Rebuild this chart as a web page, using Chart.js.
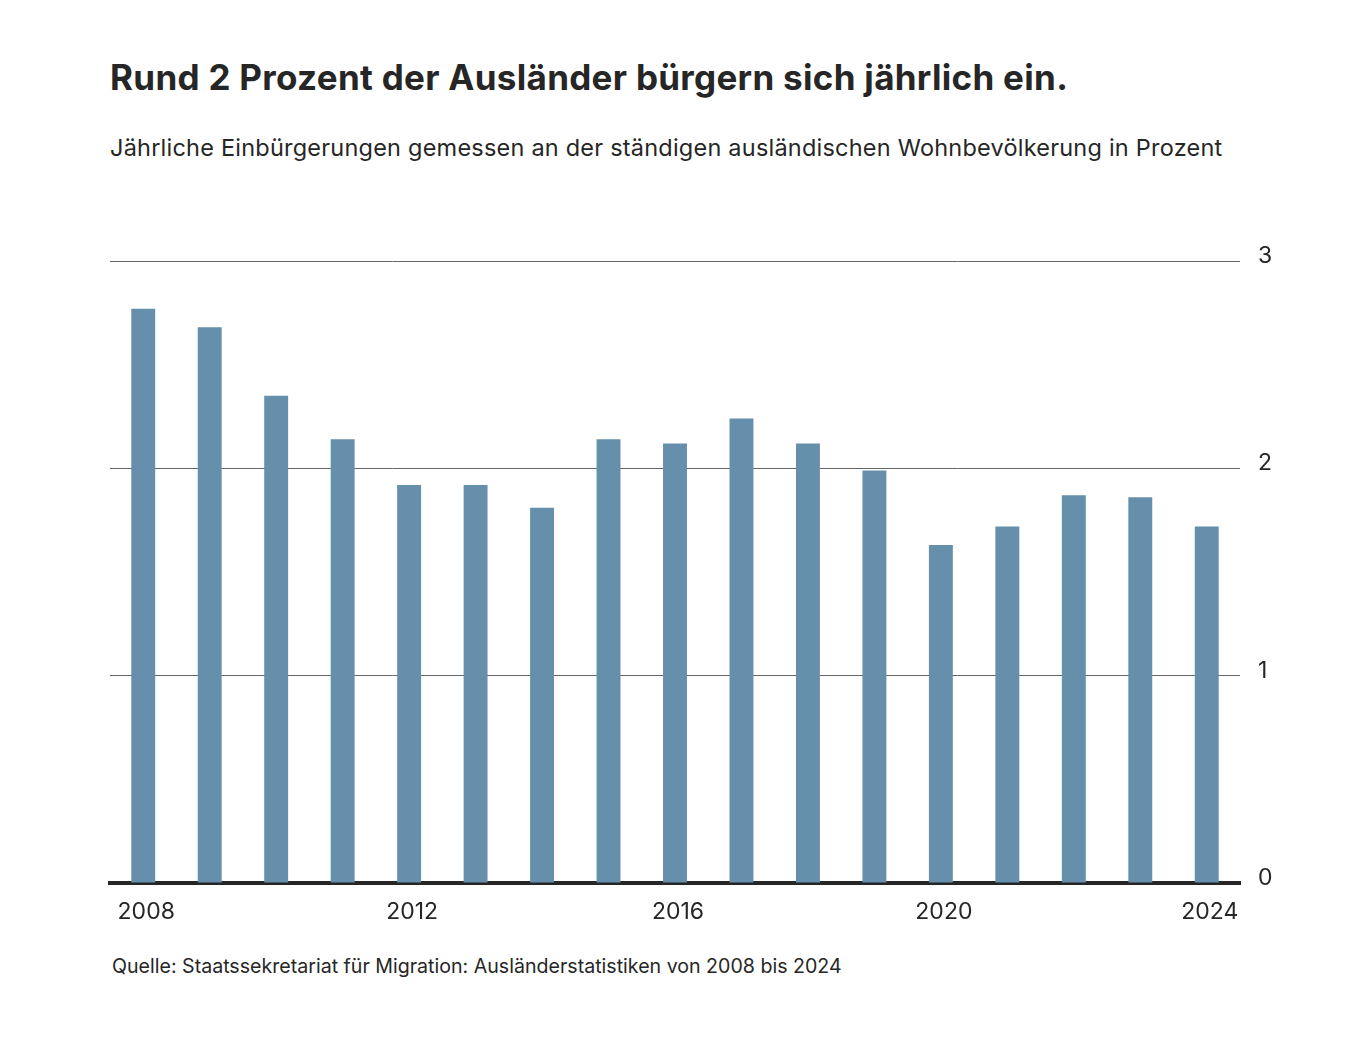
<!DOCTYPE html>
<html lang="de">
<head>
<meta charset="utf-8">
<title>Einbürgerungen</title>
<script src="https://cdn.jsdelivr.net/npm/chart.js@4.4.1/dist/chart.umd.min.js"></script>
<style>
    html, body { margin: 0; padding: 0; background: #fff; }
    body { width: 1371px; height: 1037px; position: relative; overflow: hidden; font-family: Inter, "Noto Sans", sans-serif; color: #262626; }
    .txt { position: absolute; left: 110px; line-height: 1; white-space: nowrap; }
    #title { top: 60px; font-size: 35px; font-weight: 700; letter-spacing: 0.3px; }
    #subtitle { top: 136px; font-size: 23.5px; font-weight: 400; letter-spacing: 0.22px; }
    #source { top: 957px; left: 112px; font-size: 19.6px; font-weight: 400; }
    #wrap { position: absolute; left: 0; top: 0; width: 1371px; height: 1037px; }
</style>
</head>
<body>
<div id="title" class="txt">Rund 2 Prozent der Ausländer bürgern sich jährlich ein.</div>
<div id="subtitle" class="txt">Jährliche Einbürgerungen gemessen an der ständigen ausländischen Wohnbevölkerung in Prozent</div>
<div id="source" class="txt">Quelle: Staatssekretariat für Migration: Ausländerstatistiken von 2008 bis 2024</div>
<div id="wrap"><canvas id="chart"></canvas></div>
<script>
const years = ["2008", "2009", "2010", "2011", "2012", "2013", "2014", "2015", "2016",
    "2017", "2018", "2019", "2020", "2021", "2022", "2023", "2024"]
const rates = [2.77, 2.68, 2.35, 2.14, 1.92, 1.92, 1.81, 2.14, 2.12,
    2.24, 2.12, 1.99, 1.63, 1.72, 1.87, 1.86, 1.72]
const shownYears = ["2008", "2012", "2016", "2020", "2024"]
const yTicks = [0, 1, 2, 3]

const ctx = document.getElementById("chart").getContext("2d")
const chart = new Chart(ctx, {
    type: "bar",
    data: {
        labels: years,
        datasets: [
            {
                data: rates,
                backgroundColor: "#668fab",
                borderWidth: 0,
                barPercentage: 0.36,
                categoryPercentage: 1,
            },
        ],
    },
    options: {
        responsive: true,
        maintainAspectRatio: false,
        animation: false,
        layout: {
            padding: { left: 110, top: 261, right: 0, bottom: 94 },
        },
        plugins: {
            legend: { display: false },
            tooltip: { enabled: false },
        },
        scales: {
            x: {
                z: 1,
                grid: { display: false },
                border: { display: true, color: "#262626", width: 4 },
                ticks: {
                    autoSkip: false,
                    maxRotation: 0,
                    padding: 7,
                    labelOffset: 3,
                    color: "#262626",
                    font: { family: "Inter", size: 23 },
                    callback: function (value) {
                        const lbl = this.getLabelForValue(value)
                        return shownYears.includes(lbl) ? lbl : ""
                    },
                },
                afterFit: (scale) => { scale.height = 60 },
            },
            y: {
                position: "right",
                min: 0,
                max: 3,
                afterBuildTicks: (scale) => { scale.ticks = yTicks.map((v) => ({ value: v })) },
                grid: { color: "#666", lineWidth: 1, drawTicks: false },
                border: { display: false },
                ticks: {
                    padding: 18,
                    labelOffset: -5,
                    color: "#262626",
                    font: { family: "Inter", size: 23 },
                },
                afterFit: (scale) => { scale.width = 131 },
            },
        },
    },
})
</script>
</body>
</html>
